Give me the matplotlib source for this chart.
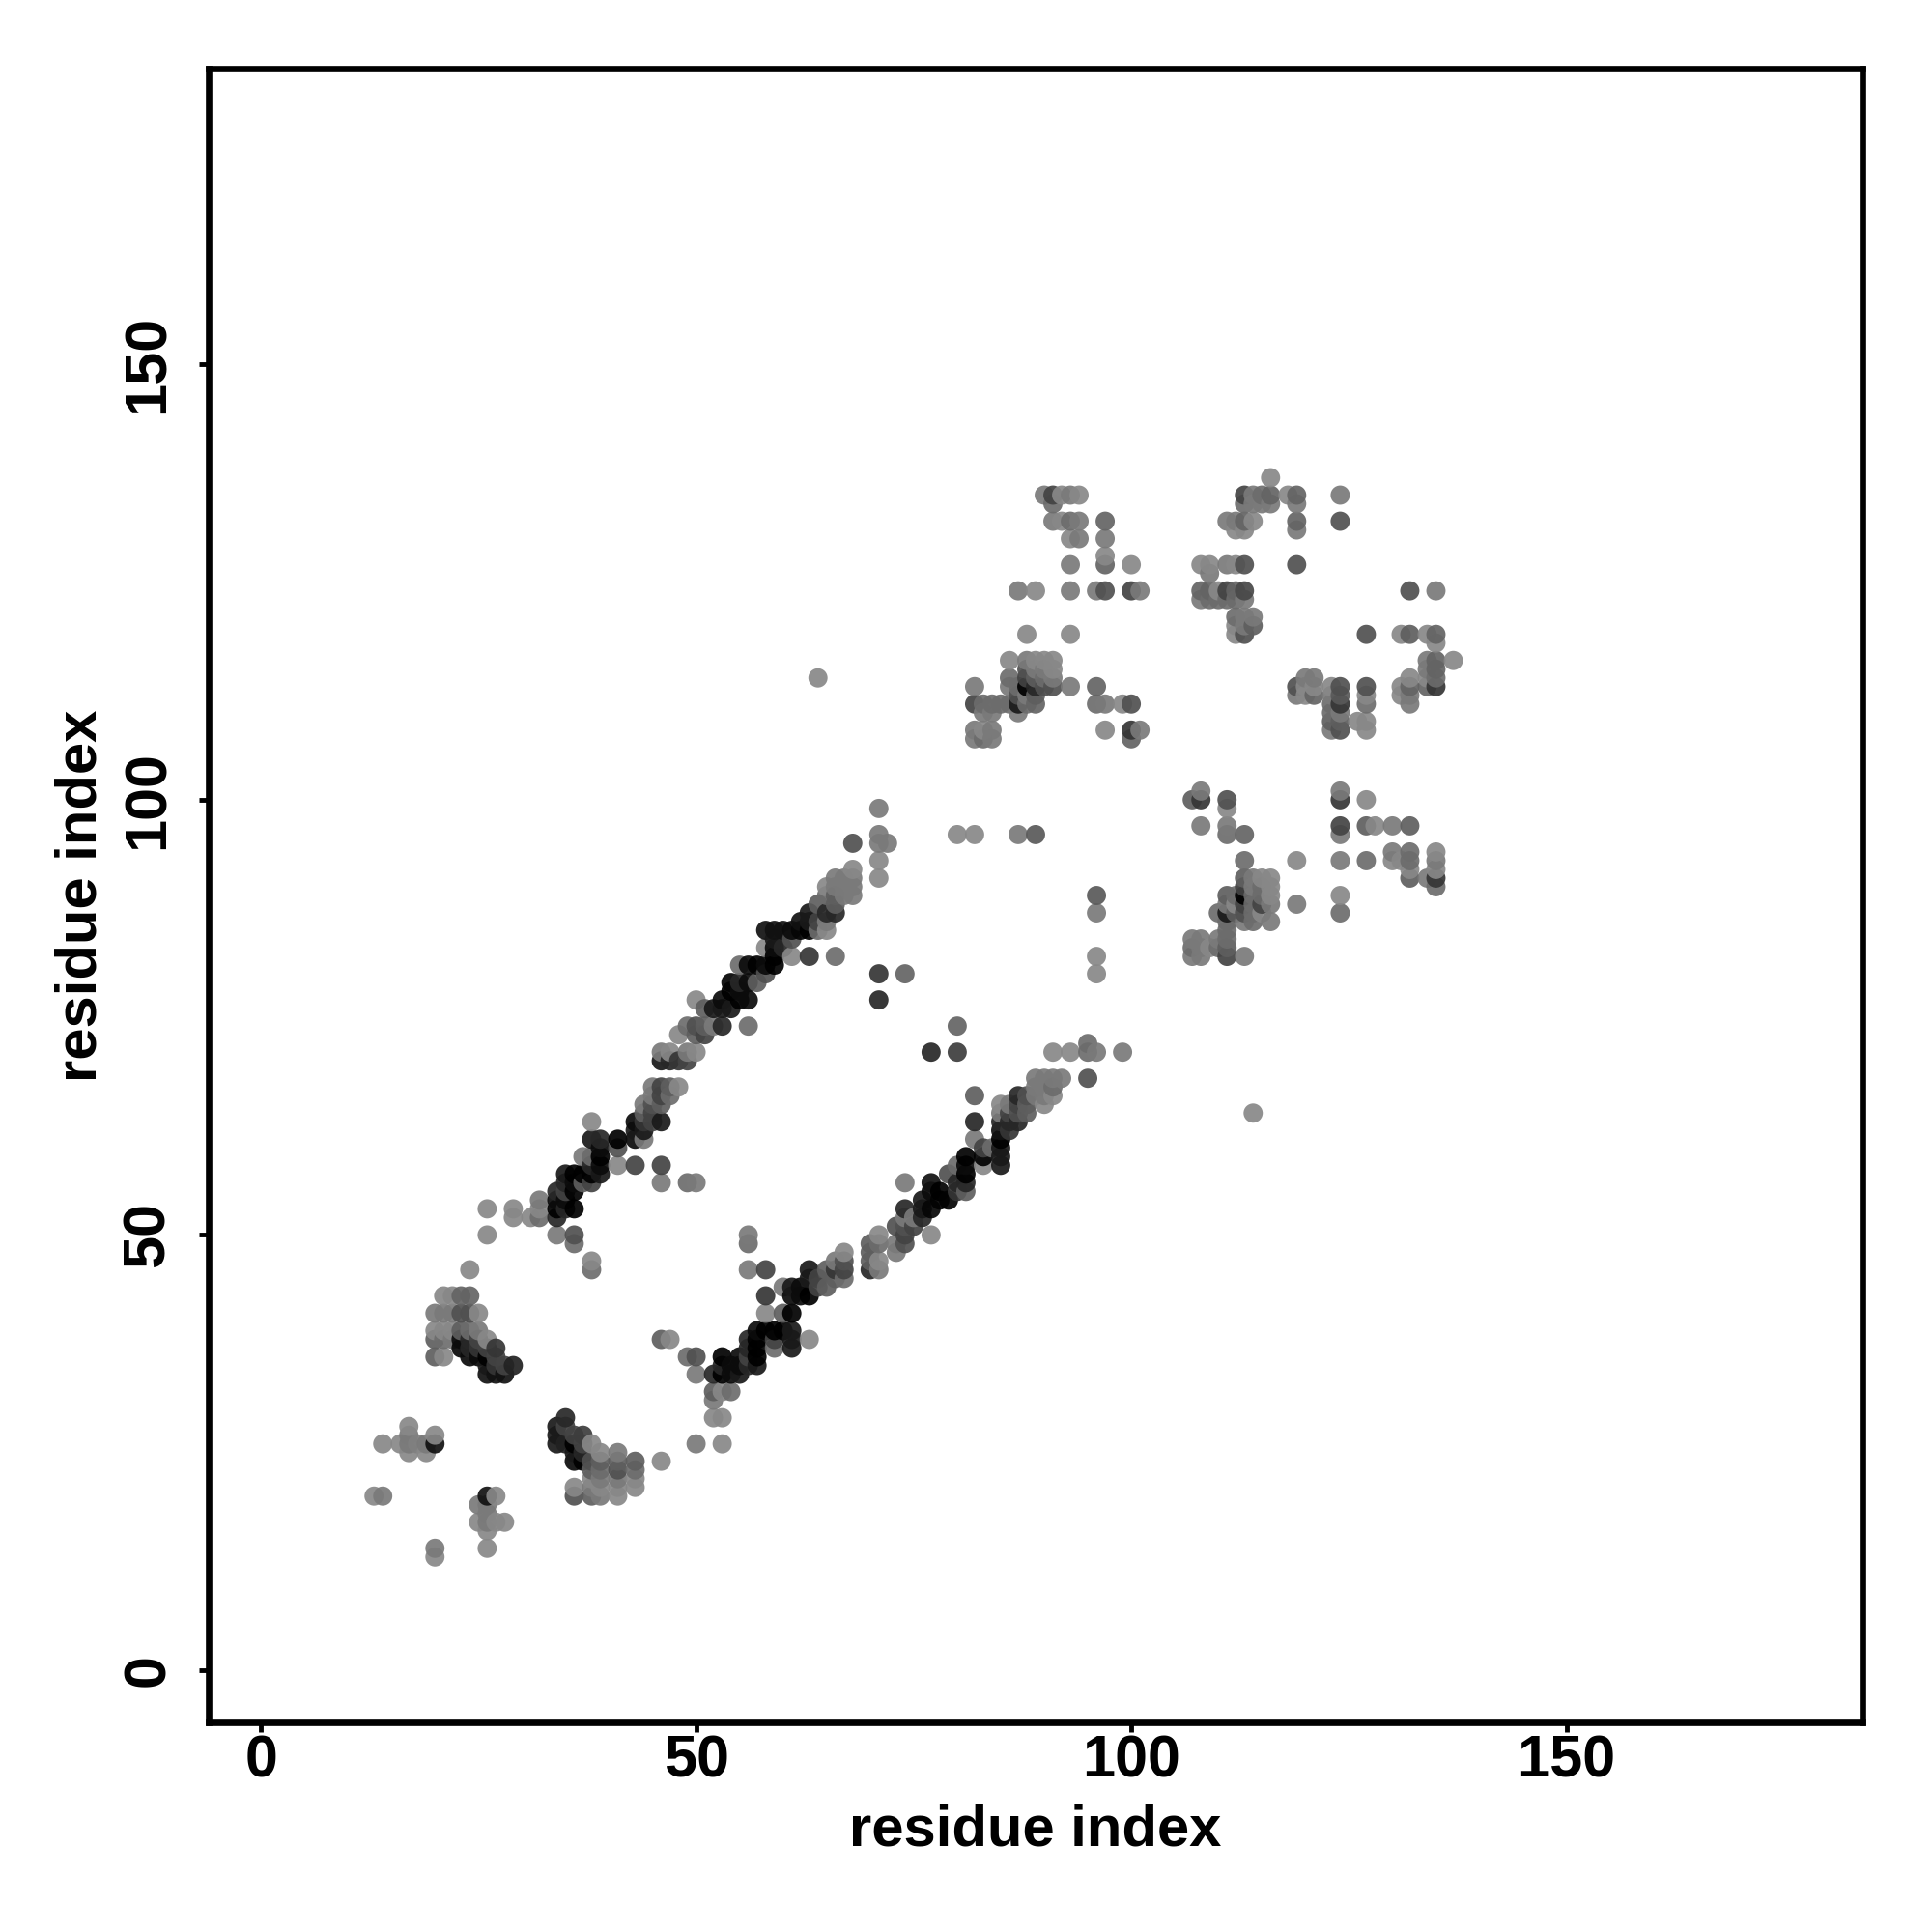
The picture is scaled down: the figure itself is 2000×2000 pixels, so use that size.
import numpy as np
import matplotlib
matplotlib.use("Agg")
import matplotlib.pyplot as plt

# contacts: (residue i, residue j, displayed grey level)
low_left = [(14,26,.55),(16,26,.55),(17,28,.55),(17,27,.5),(17,26,.5),(17,25,.55),(18,26,.52),(19,26,.5),(19,25,.55),
 (20,27,.55),(20,26,.12),(13,20,.55),(14,20,.5),(26,20,.12),(27,20,.55),(25,19,.5),(26,19,.5),(26,18,.5),(25,17,.55),
 (26,17,.5),(27,17,.55),(28,17,.55),(26,16,.55),(26,14,.55),(20,14,.5),(20,13,.55)]
cluster_a = [(21,43,.55),(22,43,.55),(23,43,.42),(24,43,.42),(20,41,.5),(21,41,.5),(22,41,.5),(23,41,.35),(24,41,.35),(25,41,.55),
 (20,39,.55),(21,39,.55),(22,39,.55),(23,39,.4),(24,39,.45),(25,39,.5),(26,38,.55),(20,38,.4),(21,38,.45),(22,38,.5),
 (23,38,.1),(24,38,.2),(25,38,.3),(27,37,.25),(20,36,.4),(21,36,.55),(24,36,.1),(25,36,.1),(26,36,.05),(27,36,.3),
 (26,35,.15),(27,35,.25),(28,35,.3),(29,35,.18),(26,34,.12),(27,34,.12),(28,34,.12),(23,37,.08),(24,37,.2),(25,37,.25),(26,37,.3),(24,46,.55)]
cluster_b = [(35,29,.2),(34,28,.15),(35,28,.3),(34,27,.15),(36,27,.3),(37,27,.28),(34,26,.15),(35,26,.18),(36,26,.05),(37,26,.3),
 (38,26,.55),(36,25,.15),(37,25,.2),(39,25,.55),(41,25,.5),(36,24,.1),(37,24,.05),(38,24,.35),(39,24,.4),(41,24,.4),(43,24,.4),(46,24,.55),
 (38,23,.4),(39,23,.45),(41,23,.35),(43,23,.45),(38,22,.55),(39,22,.5),(41,22,.5),(43,22,.55),(36,21,.55),(38,21,.5),(39,21,.55),
 (41,21,.55),(43,21,.55),(36,20,.35),(38,20,.4),(39,20,.5),(41,20,.55)]
lower_strand_1 = [(50,26,.5),(53,26,.55),(52,29,.55),(53,29,.55),(52,31,.5),(52,32,.4),(53,32,.55),(54,32,.45),(50,34,.5),(52,34,.2),
 (53,34,.05),(54,34,.1),(55,34,.15),(49,36,.45),(50,36,.35),(53,36,.02),(53,35,.2),(54,35,.1),(55,35,.1),(56,35,.2),(57,35,.15),
 (55,36,.1),(56,36,.3),(57,36,.02),(56,38,.2),(56,37,.2),(57,37,.02),(57,38,.05),(57,39,.1),(58,39,.05),(59,39,.02),(60,39,.05),
 (61,39,.15),(61,38,.15),(61,37,.15),(59,38,.3),(59,37,.45),(63,38,.55),(46,38,.4),(47,38,.55),(58,41,.55),(60,41,.4),(61,41,.03),
 (58,43,.25),(56,46,.5),(58,46,.3),(56,50,.5),(56,49,.45),(60,44,.5),(61,44,.15),(61,43,.1),(62,44,.1),(62,43,.1),(63,43,.05),
 (63,46,.15),(63,45,.15),(64,45,.3),(65,44,.4),(64,44,.3),(65,46,.4),(66,47,.5),(66,46,.25),(66,45,.4),(67,48,.55),(67,47,.35),(67,46,.3),(67,45,.45)]
lower_strand_2 = [(70,49,.4),(70,48,.4),(70,47,.4),(70,46,.2),(71,50,.55),(71,49,.45),(71,47,.55),(71,46,.5),(73,48,.5),(73,49,.5),
 (74,49,.35),(73,51,.35),(74,51,.35),(74,50,.3),(75,51,.3),(74,52,.5),(74,53,.2),(75,52,.5),(76,52,.2),(76,53,.15),(77,50,.55),(77,53,.08),
 (77,56,.12),(76,54,.15),(77,55,.1),(78,55,.05),(78,54,.07),(79,54,.07),(80,55,.25),(81,55,.4),(80,56,.2),(79,57,.35),(80,58,.45),
 (81,56,.2),(81,57,.02),(81,59,.05),(81,58,.1),(74,56,.5),(82,61,.5),(82,63,.2),(82,66,.4),(83,58,.55),(83,59,.07),(83,60,.3),(84,60,.45),
 (85,58,.15),(85,59,.15),(85,60,.15),(85,61,.05),(85,62,.12),(86,62,.25),(85,63,.2),(85,64,.5),(85,65,.55),(86,65,.5),(86,63,.2),(87,63,.2),
 (86,64,.3),(87,66,.2),(87,65,.3),(87,64,.35),(88,66,.35),(88,65,.4),(88,64,.4),(89,66,.5),(89,67,.5),(89,68,.5),(90,68,.5),(90,67,.5),
 (90,66,.5),(90,65,.55),(91,68,.5),(91,67,.45),(91,66,.55),(92,68,.5),(91,71,.55),(93,71,.55),(95,72,.45),(95,71,.45),(96,71,.5),(99,71,.5),(95,68,.35),
 (77,71,.2),(80,71,.28),(80,74,.42),(114,64,.55)]
upper_strand_1 = [(26,53,.55),(26,50,.55),(29,53,.55),(29,52,.55),(31,52,.55),(32,54,.5),(32,53,.55),(32,52,.45),(34,50,.5),(36,50,.35),(36,49,.45),
 (38,47,.55),(38,46,.45),(34,52,.2),(34,53,.05),(34,54,.1),(34,55,.2),(35,53,.2),(36,53,.02),(35,54,.1),(36,55,.05),(35,55,.3),(35,57,.15),
 (36,57,.05),(35,56,.2),(36,56,.1),(37,57,.03),(37,56,.4),(38,56,.3),(38,57,.05),(39,57,.15),(39,58,.1),(39,59,.03),(37,59,.5),(38,59,.45),
 (38,58,.2),(39,60,.1),(38,61,.15),(39,61,.2),(38,63,.55),(41,61,.05),(41,60,.35),(41,58,.55),(43,58,.3),(46,58,.3),(46,56,.5),(49,56,.45),(50,56,.5)]
upper_strand_2 = [(43,63,.1),(43,62,.15),(43,61,.1),(44,61,.5),(44,62,.15),(44,63,.25),(45,63,.3),(46,63,.15),(44,65,.5),(44,64,.4),(45,64,.3),
 (45,65,.35),(46,65,.4),(45,67,.5),(45,66,.5),(46,67,.3),(46,66,.3),(47,67,.4),(47,66,.45),(48,67,.55),(46,70,.15),(47,70,.2),(48,70,.25),(49,70,.3),
 (46,71,.5),(47,71,.55),(49,71,.5),(50,71,.55),(48,73,.55),(49,74,.45),(50,74,.35),(50,73,.4),(51,73,.3),(51,74,.4),(50,77,.55),(51,76,.4),(52,74,.5),
 (53,74,.2),(56,74,.45),(52,76,.15),(53,76,.15),(54,76,.15),(53,77,.1),(54,78,.05),(55,78,.1),(56,77,.1),(55,77,.05),(54,79,.07),(55,79,.2),(56,79,.1),
 (57,79,.4),(55,81,.45),(56,81,.1),(57,81,.05),(58,81,.1),(58,80,.35),(59,81,.05),(59,82,.05),(59,83,.1),(58,83,.55),(59,84,.15),(58,85,.12),(59,85,.12),
 (60,85,.12),(61,85,.1),(62,85,.08),(63,85,.05),(61,84,.35),(60,83,.2),(61,82,.55),(63,82,.25),(66,82,.45),(62,86,.12),(63,87,.15),(63,86,.15),(64,86,.3),
 (64,85,.45),(65,85,.55),(65,86,.5),(66,87,.2),(65,87,.2),(64,88,.4),(65,89,.45),(66,88,.4),(65,90,.55),(66,89,.4),(66,91,.5),(67,91,.5),(67,90,.5),
 (67,89,.5),(68,89,.5),(68,90,.5),(68,91,.5),(68,92,.55),(66,90,.5),(68,95,.35),(71,99,.5),(71,96,.5),(71,95,.5),(72,95,.5),(71,93,.55),(71,91,.55),
 (71,80,.25),(74,80,.42),(71,77,.2),(64,114,.55),(80,96,.55),(82,96,.55),(87,96,.5),(89,96,.38),(96,89,.38),(96,87,.5),(96,82,.55),(96,80,.55)]
mid_right = [(107,100,.4),(108,101,.5),(108,100,.25),(111,100,.35),(111,99,.55),(108,97,.5),(111,97,.5),(111,96,.45),(113,96,.42),(113,93,.45),(119,93,.55),
 (124,93,.5),(127,93,.45),(124,101,.5),(124,100,.25),(127,100,.55),(124,97,.3),(124,96,.5),(127,97,.4),(128,97,.55),(130,97,.5),(132,97,.4),(130,94,.5),
 (130,93,.55),(131,93,.55),(132,94,.45),(132,93,.45),(132,92,.55),(132,91,.4),(135,94,.55),(135,93,.5),(135,92,.55),(135,91,.25),(134,91,.5),(135,90,.45),
 (124,89,.55),(124,87,.45),(119,88,.5),(113,91,.4),(114,91,.5),(115,91,.55),(116,91,.55),(116,90,.55),(116,89,.55),(116,88,.5),(115,90,.45),(115,89,.45),
 (115,88,.3),(114,90,.5),(114,89,.45),(114,88,.45),(113,90,.3),(113,89,.02),(113,88,.3),(113,87,.35),(113,86,.5),(114,86,.45),(115,87,.55),(116,86,.5),
 (114,87,.45),(111,89,.4),(112,89,.45),(111,88,.5),(112,88,.55),(110,87,.45),(111,87,.15),(112,87,.4),(111,86,.45),(111,85,.45),(110,84,.5),(111,84,.45),
 (111,83,.4),(111,82,.3),(113,82,.5),(107,84,.5),(108,84,.5),(107,83,.45),(107,82,.5),(108,82,.5),(108,83,.5),(109,83,.55),(110,83,.45)]
top_a = [(90,135,.5),(91,135,.3),(92,135,.55),(93,135,.5),(94,135,.55),(91,134,.45),(91,132,.5),(92,132,.55),(93,132,.45),(94,132,.5),(97,132,.42),
 (93,130,.55),(94,130,.5),(97,130,.5),(97,128,.55),(97,127,.42),(93,127,.5),(100,127,.55),(87,124,.5),(89,124,.55),(93,124,.5),(96,124,.5),(97,124,.35),
 (100,124,.3),(101,124,.5),(88,119,.55),(93,119,.55),(86,116,.55),(88,116,.5),(89,116,.55),(90,116,.55),(91,116,.55),(88,115,.35),(89,115,.5),(90,115,.5),
 (91,115,.55),(86,114,.45),(88,114,.3),(89,114,.4),(90,114,.45),(91,114,.5),(82,113,.5),(86,113,.5),(87,113,.45),(88,113,.02),(89,113,.2),(90,113,.35),
 (91,113,.35),(93,113,.5),(96,113,.42),(82,111,.3),(83,111,.45),(84,111,.45),(85,111,.45),(86,111,.45),(87,111,.15),(88,111,.45),(89,111,.42),(96,111,.45),
 (97,111,.5),(99,111,.55),(100,111,.35),(87,112,.35),(88,112,.5),(89,112,.4),(83,110,.5),(84,110,.5),(87,110,.5),(82,108,.5),(83,108,.55),(84,108,.5),
 (97,108,.55),(100,108,.25),(101,108,.5),(82,107,.5),(83,107,.45),(84,107,.5),(100,107,.42)]
top_b = [(116,137,.55),(113,135,.3),(114,135,.5),(115,135,.45),(116,135,.42),(118,135,.55),(119,135,.42),(124,135,.5),(113,134,.45),(114,134,.5),(115,134,.5),
 (116,134,.5),(119,134,.5),(111,132,.5),(112,132,.5),(113,132,.42),(114,132,.55),(119,132,.42),(124,132,.35),(112,131,.55),(113,131,.55),(119,131,.5),
 (108,127,.55),(109,127,.55),(111,127,.5),(112,127,.55),(113,127,.35),(119,127,.35),(109,126,.5),(108,124,.42),(109,124,.42),(110,124,.55),(111,124,.3),
 (112,124,.42),(113,124,.32),(132,124,.35),(135,124,.5),(108,123,.5),(109,123,.45),(110,123,.45),(111,123,.45),(112,123,.45),(113,123,.5),(112,121,.45),
 (113,121,.5),(114,121,.5),(112,120,.55),(113,120,.5),(114,120,.4),(112,119,.55),(113,119,.35),(127,119,.35),(131,119,.55),(132,119,.4),(134,119,.55),
 (135,119,.42),(135,118,.55),(134,116,.5),(135,116,.42),(137,116,.55),(134,115,.5),(135,115,.42),(134,114,.55),(135,114,.45),(132,114,.55),(120,114,.5),
 (121,114,.5),(119,113,.35),(120,113,.55),(121,113,.55),(123,113,.55),(124,113,.35),(127,113,.35),(131,113,.55),(132,113,.42),(134,113,.42),(135,113,.25),
 (119,112,.5),(120,112,.55),(121,112,.42),(123,112,.5),(124,112,.38),(127,112,.55),(131,112,.55),(132,112,.5),(123,111,.45),(124,111,.25),(127,111,.45),
 (132,111,.5),(123,110,.45),(124,110,.5),(123,109,.4),(124,109,.4),(126,109,.55),(127,109,.55),(123,108,.5),(124,108,.35),(127,108,.55)]
tick_values = [0, 50, 100, 150]
axis_label = "residue index"

rows = sorted(set(low_left + cluster_a + cluster_b + lower_strand_1 + lower_strand_2 +
                  upper_strand_1 + upper_strand_2 + mid_right + top_a + top_b), key=lambda r: (r[0], r[1]))
data = np.array(rows)
alpha = 0.92
grey = np.clip((data[:, 2] + 0.02 - (1 - alpha)) / alpha, 0, 1)
colors = np.column_stack([grey, grey, grey, np.full(len(grey), alpha)])

plt.rcParams["font.family"] = ["Liberation Sans", "DejaVu Sans"]
plt.rcParams["font.weight"] = "bold"
fig = plt.figure(figsize=(20, 20), dpi=100, facecolor="white")
ax = fig.add_axes([216/2000, 1-1783/2000, (1928-216)/2000, (1783-71)/2000])
ax.scatter(data[:, 0], data[:, 1], s=205, c=colors, linewidths=0, zorder=3)
ax.set_xlim(-6, 184)
ax.set_ylim(-6, 184)
ax.set_xticks(tick_values)
ax.set_yticks(tick_values)
ax.tick_params(axis="both", length=7, width=3.5, labelsize=44, pad=2, color="black")
for t in ax.get_yticklabels():
    t.set_rotation(90)
    t.set_va("center")
ax.tick_params(axis="y", pad=17)
for s in ax.spines.values():
    s.set_linewidth(4.8)
ax.set_xlabel(axis_label, fontsize=43, fontweight="bold", labelpad=11)
ax.set_ylabel(axis_label, fontsize=43, fontweight="bold", labelpad=10)
fig.savefig("out.png", dpi=100)
